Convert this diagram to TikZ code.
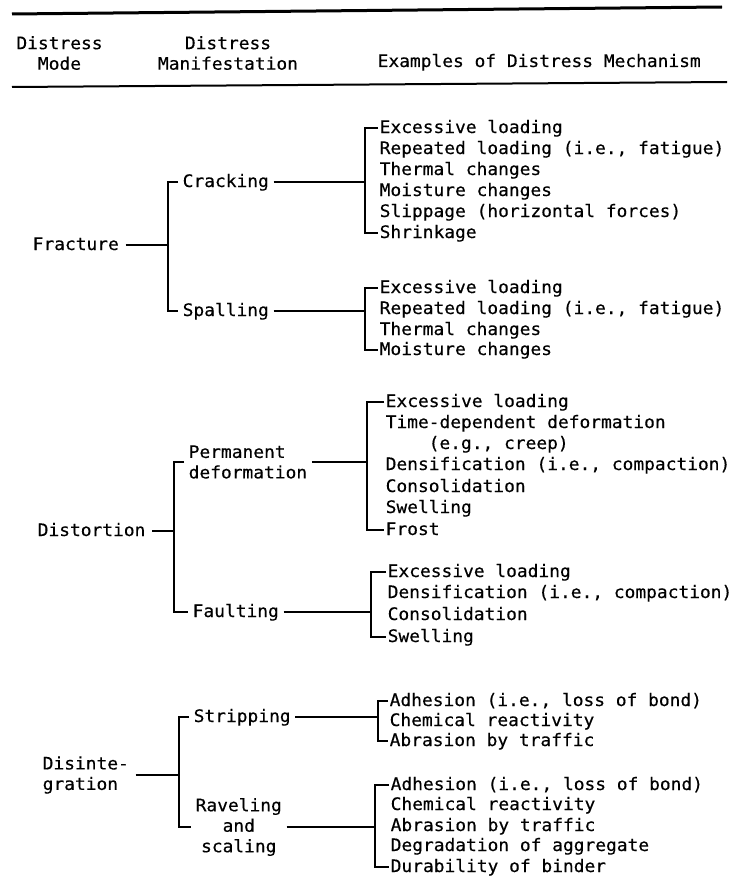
\documentclass[tikz,border=0pt]{standalone}
\usepackage{fontspec}
\newfontfamily\typed[FakeStretch=1.04,FakeBold=0.4]{DejaVu Sans Mono}

\begin{document}
\begin{tikzpicture}[
  x=1pt, y=-1pt, line width=1.4pt,
  txt/.style={font=\typed\fontsize{17.2}{20.5}\selectfont, inner ysep=0pt},  one/.style={text height=11pt, text depth=1pt},  mode/.style={txt, inner xsep=6pt, anchor=west},  manif/.style={txt, inner xsep=4pt, anchor=west},  mech/.style={txt, one, inner xsep=1pt, anchor=west}
]
  \useasboundingbox (0,0) rectangle (741,880);
  % header
  \draw[line width=3pt] (12,14) -- (722,7);
  \node[txt, align=center] (hmode) at (59.5,53) {Distress\\Mode};
  \node[txt, align=center] (hmanif) at (228,53) {Distress\\Manifestation};
  \node[mech] (hmech) at (376,62) {Examples of Distress Mechanism};
  \draw[line width=2pt] (12,87) -- (727,82);
  % fracture
  \node[mode, one] (frac) at (26,245) {Fracture};
  \node[manif, one] (crack) at (178,182) {Cracking};
  \node[manif, one] (spal) at (178,311) {Spalling};
  \node[mech] (c1) at (378,128) {Excessive loading};
  \node[mech] (c2) at (378,149) {Repeated loading (i.e., fatigue)};
  \node[mech] (c3) at (378,170) {Thermal changes};
  \node[mech] (c4) at (378,191) {Moisture changes};
  \node[mech] (c5) at (378,212) {Slippage (horizontal forces)};
  \node[mech] (c6) at (378,233) {Shrinkage};
  \node[mech] (s1) at (378,288) {Excessive loading};
  \node[mech] (s2) at (378,309) {Repeated loading (i.e., fatigue)};
  \node[mech] (s3) at (378,330) {Thermal changes};
  \node[mech] (s4) at (378,350) {Moisture changes};
  \draw (crack.west) -- ++(-10,0) coordinate (fr) |- (spal.west);
  \draw (frac.east) -- (frac.east -| fr);
  \draw (c1.west) -- ++(-13,0) coordinate (cr) |- (c6.west);
  \draw (crack.east) -- (crack.east -| cr);
  \draw (s1.west) -- ++(-13,0) coordinate (sr) |- (s4.west);
  \draw (spal.east) -- (spal.east -| sr);
  % distortion
  \node[mode, one] (dist) at (31,531) {Distortion};
  \node[manif, align=left] (perm) at (184,462) {Permanent\\deformation};
  \node[manif, one] (faul) at (188,612) {Faulting};
  \node[mech] (p1) at (384,402) {Excessive loading};
  \node[mech] (p2) at (384,423) {Time-dependent deformation};
  \node[mech] (p3) at (427,444) {(e.g., creep)};
  \node[mech] (p4) at (384,465) {Densification (i.e., compaction)};
  \node[mech] (p5) at (384,487) {Consolidation};
  \node[mech] (p6) at (384,508) {Swelling};
  \node[mech] (p7) at (384,530) {Frost};
  \node[mech] (f1) at (386,572) {Excessive loading};
  \node[mech] (f2) at (386,593) {Densification (i.e., compaction)};
  \node[mech] (f3) at (386,615) {Consolidation};
  \node[mech] (f4) at (386,637) {Swelling};
  \draw (perm.west) -- ++(-10,0) coordinate (dr) |- (faul.west);
  \draw (dist.east) -- (dist.east -| dr);
  \draw (p1.west) -- ++(-17,0) coordinate (pr) |- (p7.west);
  \draw (perm.east) -- (perm.east -| pr);
  \draw (f1.west) -- ++(-15,0) coordinate (flr) |- (f4.west);
  \draw (faul.east) -- (faul.east -| flr);
  % disintegration
  \node[mode, align=left] (disi) at (36,775) {Disinte-\\gration};
  \node[manif, one] (strip) at (189,717) {Stripping};
  \node[manif, align=center] (ravel) at (191,827) {Raveling\\and\\scaling};
  \node[mech] (t1) at (388,701) {Adhesion (i.e., loss of bond)};
  \node[mech] (t2) at (388,721) {Chemical reactivity};
  \node[mech] (t3) at (388,741) {Abrasion by traffic};
  \node[mech] (r1) at (389,785) {Adhesion (i.e., loss of bond)};
  \node[mech] (r2) at (389,805) {Chemical reactivity};
  \node[mech] (r3) at (389,826) {Abrasion by traffic};
  \node[mech] (r4) at (389,846) {Degradation of aggregate};
  \node[mech] (r5) at (389,867) {Durability of binder};
  \draw (strip.west) -- ++(-10,0) coordinate (ir) |- (ravel.west);
  \draw (disi.east) -- (disi.east -| ir);
  \draw (t1.west) -- ++(-10,0) coordinate (tr) |- (t3.west);
  \draw (strip.east) -- (strip.east -| tr);
  \draw (r1.west) -- ++(-14,0) coordinate (rr) |- (r5.west);
  \draw (ravel.east) -- (ravel.east -| rr);
\end{tikzpicture}
\end{document}
